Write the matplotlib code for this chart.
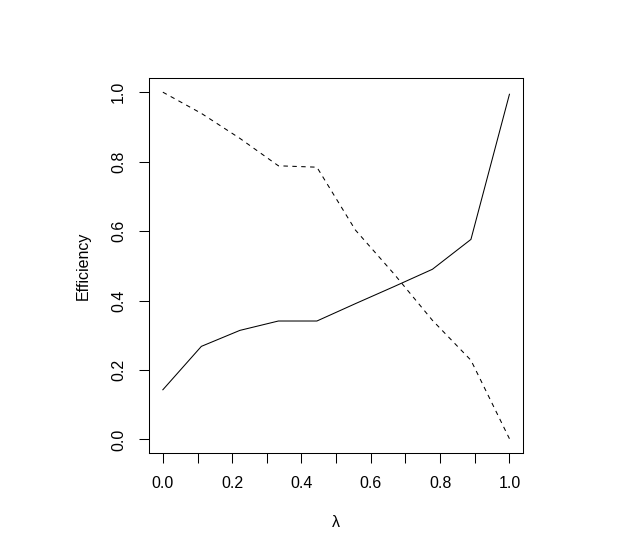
import matplotlib
matplotlib.use("Agg")
import matplotlib.pyplot as plt

lam = [0.0, 1/9, 2/9, 3/9, 4/9, 5/9, 6/9, 7/9, 8/9, 1.0]
eff_solid = [0.143, 0.268, 0.314, 0.341, 0.341, 0.391, 0.440, 0.490, 0.576, 0.994]
eff_dashed = [1.000, 0.939, 0.867, 0.788, 0.784, 0.603, 0.477, 0.343, 0.228, 0.002]
xticks = [0.0, 0.1, 0.2, 0.3, 0.4, 0.5, 0.6, 0.7, 0.8, 0.9, 1.0]
xticklabels = ["0.0", "", "0.2", "", "0.4", "", "0.6", "", "0.8", "", "1.0"]
yticks = [0.0, 0.2, 0.4, 0.6, 0.8, 1.0]
yticklabels = ["0.0", "0.2", "0.4", "0.6", "0.8", "1.0"]

plt.rcParams['font.family'] = ['Liberation Sans', 'DejaVu Sans']
plt.rcParams['lines.scale_dashes'] = False
fs = 11.5

fig = plt.figure(figsize=(6.34, 5.51), dpi=100)
ax = fig.add_axes([0.2350, 0.1773, 0.8254 - 0.2350, 0.8579 - 0.1773])
ax.plot(lam, eff_solid, color='black', lw=0.75, solid_joinstyle='miter')
ax.plot(lam, eff_dashed, color='black', lw=0.75, linestyle=(0, (3.2, 3.2)))
ax.set_xlim(-0.04, 1.04)
ax.set_ylim(-0.04, 1.04)
ax.set_xticks(xticks)
ax.set_xticklabels(xticklabels, fontsize=fs)
ax.set_yticks(yticks)
ax.set_yticklabels(yticklabels, fontsize=fs, rotation=90, va='center')
ax.tick_params(axis='both', direction='out', length=6.9, width=0.75, pad=9.5, color='black')
for s in ax.spines.values():
    s.set_linewidth(0.75)
ax.set_xlabel("λ", fontsize=fs, labelpad=17)
ax.set_ylabel("Efficiency", fontsize=fs, labelpad=14.5)
fig.savefig("out.png", dpi=100)
